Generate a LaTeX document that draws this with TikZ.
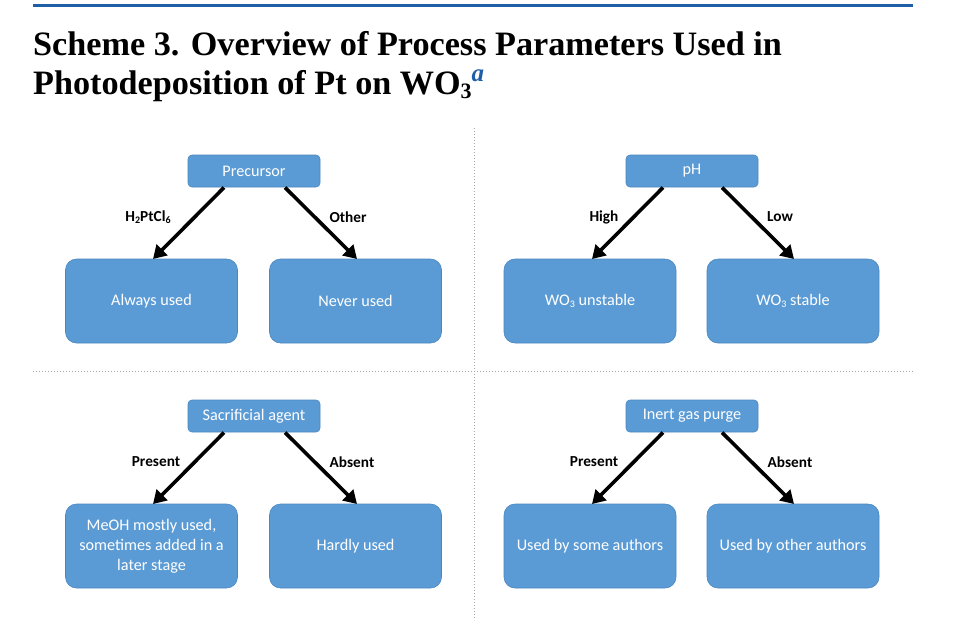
\documentclass[tikz,border=0pt]{standalone}
\usepackage{fontspec}
\setmainfont{Liberation Serif}
\newfontfamily\boxfont{Carlito}
\usetikzlibrary{arrows.meta}
\definecolor{boxblue}{HTML}{5B9BD5}
\definecolor{boxedge}{HTML}{4A86BF}
\definecolor{rulblue}{HTML}{1F5FA8}
\newcommand{\lowsub}[1]{\raisebox{-0.25ex}{\fontsize{10}{10}\selectfont #1}}
\tikzset{
  topbox/.style={draw=boxedge, fill=boxblue, rounded corners=4pt, minimum width=132pt, minimum height=32pt, text=white, font=\boxfont\fontsize{16.2}{18}\selectfont, inner sep=0pt, line width=0.6pt},
  leafbox/.style={draw=boxedge, fill=boxblue, rounded corners=11pt, minimum width=172pt, minimum height=84pt, text=white, font=\boxfont\fontsize{16.2}{20}\selectfont, inner sep=0pt, align=center, line width=0.6pt},
  branch/.style={line width=3.6pt, -{Triangle[length=13pt,width=15pt]}, shorten >=0pt},
  blabel/.style={font=\boxfont\bfseries\fontsize{15.3}{17}\selectfont, text=black, inner sep=0pt},
  sep/.style={draw=gray!70, dotted, line width=1pt}
}
\begin{document}
\begin{tikzpicture}[x=1pt,y=-1pt]
\useasboundingbox (0,0) rectangle (974,625);
% header rule
\draw[rulblue, line width=3pt] (33,5) -- (913,5);
% title
\node[anchor=base west, inner sep=0pt, font=\bfseries\fontsize{34.2}{38}\selectfont] (t1) at (33,55) {Scheme 3. Overview of Process Parameters Used in};
\node[anchor=base west, inner sep=0pt, font=\bfseries\fontsize{34.2}{38}\selectfont] (t2) at (33,94) {Photodeposition of Pt on WO\raisebox{-0.3ex}{\fontsize{22}{22}\selectfont 3}\raisebox{0.8ex}{\fontsize{25}{25}\selectfont\textcolor{rulblue}{\itshape a}}};
% separators
\coordinate (v1) at (474,128); \coordinate (v2) at (474,620);
\coordinate (h1) at (33,371); \coordinate (h2) at (913,371);
\draw[sep] (v1) -- (v2);
\draw[sep] (h1) -- (h2);
% top-left
\node[topbox] (p1) at (254,171) {Precursor};
\node[leafbox] (p1a) at (151.5,301) {Always used};
\node[leafbox] (p1b) at (355.5,301) {Never used};
\draw[branch] (224,187.5) -- (153,259);
\draw[branch] (285,187.5) -- (357,259);
\node[blabel] (l1a) at (148,217) {H\lowsub{2}PtCl\lowsub{6}};
\node[blabel] (l1b) at (348,217) {Other};
% top-right
\node[topbox] (p2) at (692,171) {pH};
\node[leafbox] (p2a) at (590,301) {WO\lowsub{3} unstable};
\node[leafbox] (p2b) at (793,301) {WO\lowsub{3} stable};
\draw[branch] (663,187.5) -- (592,259);
\draw[branch] (722,187.5) -- (794,259);
\node[blabel] (l2a) at (604,217) {High};
\node[blabel] (l2b) at (780,217) {Low};
% bottom-left
\node[topbox] (p3) at (254,416) {Sacrificial agent};
\node[leafbox] (p3a) at (151.5,546) {MeOH mostly used,\\sometimes added in a\\later stage};
\node[leafbox] (p3b) at (355.5,546) {Hardly used};
\draw[branch] (224,432.5) -- (153,504);
\draw[branch] (285,432.5) -- (357,504);
\node[blabel] (l3a) at (156,462) {Present};
\node[blabel] (l3b) at (352,462) {Absent};
% bottom-right
\node[topbox] (p4) at (692,416) {Inert gas purge};
\node[leafbox] (p4a) at (590,546) {Used by some authors};
\node[leafbox] (p4b) at (793,546) {Used by other authors};
\draw[branch] (663,432.5) -- (592,504);
\draw[branch] (722,432.5) -- (794,504);
\node[blabel] (l4a) at (594,462) {Present};
\node[blabel] (l4b) at (790,462) {Absent};
\end{tikzpicture}
\end{document}
